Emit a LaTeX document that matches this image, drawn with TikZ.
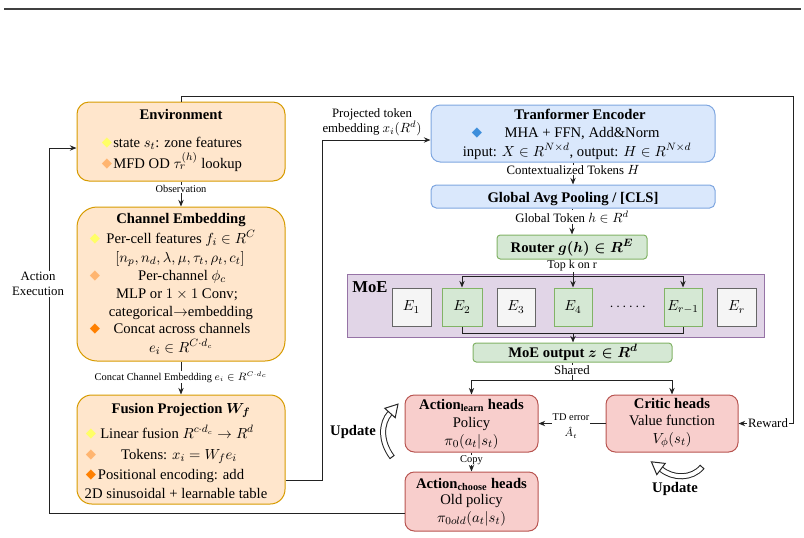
\documentclass[tikz,border=0pt]{standalone}
\usepackage{amsmath}
\usepackage{fontspec}
\setmainfont{Liberation Serif}
\newfontfamily\djf{DejaVu Sans}
\usetikzlibrary{arrows.meta,fit,calc}
\definecolor{oFill}{HTML}{FFE6CC}\definecolor{oLine}{HTML}{D79B00}
\definecolor{bFill}{HTML}{DAE8FC}\definecolor{bLine}{HTML}{7EA6E0}
\definecolor{gFill}{HTML}{D5E8D4}\definecolor{gLine}{HTML}{82B366}
\definecolor{pFill}{HTML}{E1D5E7}\definecolor{pLine}{HTML}{9673A6}
\definecolor{rFill}{HTML}{F8CECC}\definecolor{rLine}{HTML}{B85450}
\definecolor{wFill}{HTML}{F5F5F5}\definecolor{wLine}{HTML}{666666}
\definecolor{yel}{HTML}{FFFF66}\definecolor{lor}{HTML}{FFB570}
\definecolor{org}{HTML}{FF8000}\definecolor{blu}{HTML}{3D8EDB}
\definecolor{lineC}{HTML}{222222}
\begin{document}
\begin{tikzpicture}[x=0.75pt,y=-0.75pt,
  box/.style={line width=0.75pt, inner sep=0pt},
  obox/.style={box, fill=oFill, draw=oLine},
  bbox/.style={box, fill=bFill, draw=bLine},
  gbox/.style={box, fill=gFill, draw=gLine},
  pbox/.style={box, fill=pFill, draw=pLine},
  rbox/.style={box, fill=rFill, draw=rLine},
  wbox/.style={box, fill=wFill, draw=wLine},
  arr/.style={draw=lineC, line width=0.75pt, -{Stealth[length=5pt,width=4pt]}},
  ln/.style={draw=lineC, line width=0.75pt},
  txt/.style={inner sep=0pt, anchor=base, font=\fontsize{11}{13}\selectfont},
  ttl/.style={inner sep=0pt, anchor=base, font=\fontsize{11}{13}\selectfont\bfseries\boldmath},
  lab/.style={inner sep=0.6pt, fill=white, align=center, font=\fontsize{9.6}{11.5}\selectfont},
  slab/.style={inner sep=0.6pt, fill=white, align=center, font=\fontsize{7.8}{10.5}\selectfont},
  dia/.style={inner sep=0pt, font=\djf\fontsize{10}{10}\selectfont},
  upd/.style={inner sep=0pt, font=\fontsize{11}{13}\selectfont\bfseries}
]
\useasboundingbox (0,0) rectangle (804,537);
\coordinate (rl) at (4,9); \coordinate (rr) at (801,9);
\draw[line width=1.5pt, black!75] (rl) -- (rr);

% ---------- boxes ----------
\node[obox, rounded corners=9pt,  fit={(77,102)(285,181)}] (env) {};
\node[obox, rounded corners=15pt, fit={(77,207)(285,361)}] (ch) {};
\node[obox, rounded corners=11pt, fit={(77,395)(285,504)}] (fus) {};
\node[bbox, rounded corners=7pt,  fit={(431,105)(715,162)}] (tr) {};
\node[bbox, rounded corners=4pt,  fit={(431,185)(715,208)}] (pool) {};
\node[gbox, rounded corners=2.5pt, fit={(497,235)(647,259)}] (router) {};
\node[pbox, fit={(347,274)(764,337)}] (moe) {};
\node[wbox, fit={(392,288)(431,326)}] (e1) {};
\node[gbox, fit={(442,288)(482,326)}] (e2) {};
\node[wbox, fit={(497,288)(535,326)}] (e3) {};
\node[gbox, fit={(554,288)(592,326)}] (e4) {};
\node[gbox, fit={(664,288)(702,326)}] (er1) {};
\node[wbox, fit={(717,288)(756,326)}] (er) {};
\node[gbox, rounded corners=2.5pt, fit={(473,343)(672,362)}] (mo) {};
\node[rbox, rounded corners=7pt, fit={(405,395)(538,452)}] (al) {};
\node[rbox, rounded corners=7pt, fit={(606,395)(738,452)}] (cr) {};
\node[rbox, rounded corners=7pt, fit={(405,472)(538,531)}] (ac) {};

% ---------- Environment ----------
\node[ttl] (envT) at (181,119) {Environment};
\node[dia, text=yel] (envD1) at (107,143) {◆};
\node[txt, anchor=base west] (envL1) at (113,147) {state $s_t$: zone features};
\node[dia, text=lor] (envD2) at (107,164) {◆};
\node[txt, anchor=base west] (envL2) at (113,168) {MFD OD $\tau_r^{(h)}$ lookup};

% ---------- Channel Embedding ----------
\node[ttl] (chT) at (181,223) {Channel Embedding};
\node[dia, text=yel] (chD1) at (95,239) {◆};
\node[txt] (chL1) at (181,243) {Per-cell features $f_i \in R^C$};
\node[txt] (chL2) at (180,262) {$[n_p, n_d, \lambda, \mu, \tau_t, \rho_t, c_t]$};
\node[dia, text=lor] (chD2) at (95,276) {◆};
\node[txt] (chL3) at (182,280) {Per-channel $\phi_c$};
\node[txt] (chL4) at (177,298) {MLP or $1 \times 1$ Conv;};
\node[txt] (chL5) at (181,316) {categorical$\rightarrow$embedding};
\node[dia, text=org] (chD3) at (95,329) {◆};
\node[txt] (chL6) at (182,333) {Concat across channels};
\node[txt] (chL7) at (181,352) {$e_i \in R^{C\cdot d_c}$};

% ---------- Fusion ----------
\node[ttl] (fuT) at (181,413) {Fusion Projection $W_f$};
\node[dia, text=yel] (fuD1) at (91,434) {◆};
\node[txt] (fuL1) at (177,438) {Linear fusion $R^{c\cdot d_c} \rightarrow R^d$};
\node[dia, text=lor] (fuD2) at (91,455) {◆};
\node[txt] (fuL2) at (179,459) {Tokens: $x_i = W_f e_i$};
\node[dia, text=org] (fuD3) at (91,475) {◆};
\node[txt] (fuL3) at (171,479) {Positional encoding: add};
\node[txt] (fuL4) at (176,498) {2D sinusoidal + learnable table};

% ---------- Transformer side ----------
\node[ttl] (trT) at (580,119) {Tranformer Encoder};
\node[dia, text=blu] (trD) at (477,133) {◆};
\node[txt] (trL1) at (582,137) {MHA + FFN, Add\&Norm};
\node[txt] (trL2) at (577,156) {input: $X \in R^{N\times d}$, output: $H \in R^{N\times d}$};
\node[ttl] (poT) at (573,202) {Global Avg Pooling / [CLS]};
\node[ttl] (roT) at (572,252) {Router $g(h) \in R^E$};
\node[inner sep=0pt, font=\fontsize{12.5}{14}\selectfont\bfseries] (moT) at (370,287) {MoE};
\node[txt, anchor=center] (e1t) at (e1) {$E_1$};
\node[txt, anchor=center] (e2t) at (e2) {$E_2$};
\node[txt, anchor=center] (e3t) at (e3) {$E_3$};
\node[txt, anchor=center] (e4t) at (e4) {$E_4$};
\node[txt, anchor=center] (dots) at (629,307) {$\cdots\cdots$};
\node[txt, anchor=center] (er1t) at (er1) {$E_{r-1}$};
\node[txt, anchor=center] (ert) at (er) {$E_r$};
\node[ttl] (moutT) at (573,357) {MoE output $z \in R^d$};

% ---------- heads ----------
\node[ttl] (alT) at (471.5,409) {Action$_{\textbf{learn}}$ heads};
\node[txt] (alL1) at (471.5,427) {Policy};
\node[txt] (alL2) at (471.5,445) {$\pi_0(a_t|s_t)$};
\node[ttl] (crT) at (672,408) {Critic heads};
\node[txt] (crL1) at (672,425) {Value function};
\node[txt] (crL2) at (672,443) {$V_\phi(s_t)$};
\node[ttl] (acT) at (471.5,488) {Action$_{\textbf{choose}}$ heads};
\node[txt] (acL1) at (471.5,504) {Old policy};
\node[txt] (acL2) at (471.5,522) {$\pi_{0old}(a_t|s_t)$};

% ---------- connectors ----------
\draw[arr] (env) -- (ch);
\draw[arr] (ch) -- (fus);
\coordinate (p1) at (322,480); \coordinate (p2) at (322,140);
\draw[arr] (fus.east |- p1) -- (p1) -- (p2) -- (tr.west |- p2);
\draw[arr] (tr) -- (pool);
\draw[arr] (pool.south -| router) -- (router);
\coordinate (k1) at (462,276); \coordinate (k2) at (573,276); \coordinate (k3) at (683,276);
\draw[ln] (router.south -| k2) -- (k2);
\draw[ln] (k1) -- (k3);
\draw[arr] (k1) -- (e2.north -| k1);
\draw[arr] (k2) -- (e4.north -| k2);
\draw[arr] (k3) -- (er1.north -| k3);
\coordinate (b1) at (462,333); \coordinate (b2) at (573,333); \coordinate (b3) at (683,333);
\draw[ln] (e2.south -| b1) -- (b1) -- (b3) -- (er1.south -| b3);
\draw[arr] (b2) -- (mo.north -| b2);
\coordinate (s0) at (572.5,380); \coordinate (s1) at (471.5,380); \coordinate (s2) at (672,380);
\draw[ln] (mo.south -| s0) -- (s0);
\draw[ln] (s1) -- (s2);
\draw[arr] (s1) -- (al);
\draw[arr] (s2) -- (cr);
\draw[arr] (cr) -- (al);
\draw[arr] (al) -- (ac);
\coordinate (r0) at (181,96); \coordinate (r1) at (793,96); \coordinate (r2) at (793,423.5);
\draw[arr] (env.north -| r0) -- (r0) -- (r1) -- (r2) -- (cr.east |- r2);
\coordinate (a0) at (49,513); \coordinate (a1) at (49,148);
\draw[arr] (ac.west |- a0) -- (a0) -- (a1) -- (env.west |- a1);

% ---------- labels ----------
\node[slab] (obs) at (181,189) {Observation};
\node[slab] (cce) at (181,377) {Concat Channel Embedding $e_i \in R^{C\cdot d_c}$};
\node[lab, fill=none] (proj) at (372,122) {Projected token\\embedding $x_i(R^d)$};
\node[lab] (ctx) at (573,170) {Contextualized Tokens $H$};
\node[lab] (glob) at (572,217) {Global Token $h \in R^d$};
\node[lab, font=\fontsize{9}{11}\selectfont] (topk) at (572,266) {Top k on r};
\node[lab] (shr) at (572,370) {Shared};
\node[slab, font=\fontsize{7.8}{12}\selectfont] (td) at (571,426) {TD error\\$\hat{A}_t$};
\node[slab] (copy) at (471.5,460) {Copy};
\node[lab] (rew) at (768,423) {Reward};
\node[lab] (aex) at (38,284) {Action\\Execution};

% ---------- update arrows ----------
\draw[line width=4.5pt, black!85] (392,457) .. controls (380,441) and (381,423) .. (390,413);
\draw[line width=3pt, white] (392,457) .. controls (380,441) and (381,423) .. (390,413);
\draw[line width=0.75pt, black!85] (389.6,458.8) -- (394.4,455.2);
\draw[fill=white, draw=black!85, line width=0.75pt] (384.8,408.3) -- (398,404.1) -- (395.2,417.7) -- cycle;
\draw[line width=4.5pt, black!85] (702,467) .. controls (692,479) and (673,479) .. (661,469);
\draw[line width=3pt, white] (702,467) .. controls (692,479) and (673,479) .. (661,469);
\draw[line width=0.75pt, black!85] (699.8,465) -- (704.2,469);
\draw[fill=white, draw=black!85, line width=0.75pt] (665.2,463.4) -- (651.4,461.8) -- (656.8,474.6) -- cycle;
\node[upd] (u1) at (353,432) {Update};
\node[upd] (u2) at (675,489) {Update};
\end{tikzpicture}
\end{document}
